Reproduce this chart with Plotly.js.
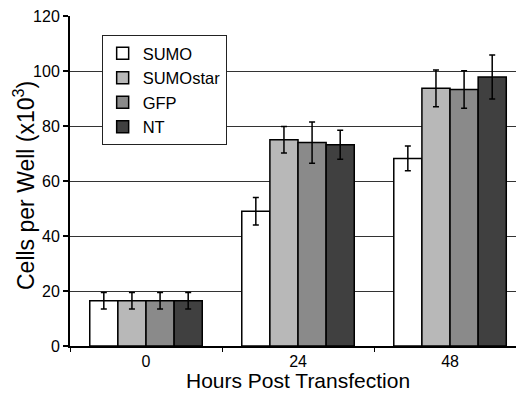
<!DOCTYPE html>
<html>
<head>
<meta charset="utf-8">
<script src="https://cdn.plot.ly/plotly-3.0.1.min.js"></script>
<style>html,body{margin:0;padding:0;background:#fff;}#chart{width:516px;height:393px;}</style>
</head>
<body>
<div id="chart"></div>
<script>
const categories = ["0", "24", "48"];
const seriesNames = ["SUMO", "SUMOstar", "GFP", "NT"];
const sumoValues = [16.5, 49, 68.2];
const sumoErrors = [3, 5, 4.5];
const sumostarValues = [16.5, 75, 93.7];
const sumostarErrors = [3, 4.8, 6.7];
const gfpValues = [16.5, 74, 93.3];
const gfpErrors = [3, 7.5, 6.8];
const ntValues = [16.5, 73.2, 97.8];
const ntErrors = [3, 5.3, 8];
const tickValuesY = [0, 20, 40, 60, 80, 100, 120];
const xTitle = "Hours Post Transfection";
const yTitle = "Cells per Well (x10<sup>3</sup>)";

const colors = ["#ffffff", "#b8b8b8", "#8a8a8a", "#404040"];
const vals = [sumoValues, sumostarValues, gfpValues, ntValues];
const errs = [sumoErrors, sumostarErrors, gfpErrors, ntErrors];

const traces = seriesNames.map((name, i) => ({
  type: "bar",
  name: name,
  x: categories,
  y: vals[i],
  marker: {color: colors[i], line: {color: "#000", width: 1.5}},
  error_y: {type: "data", array: errs[i], visible: true, color: "#000", thickness: 1.5, width: 3}
}));

const layout = {
  width: 516, height: 393,
  margin: {l: 70, r: 0, t: 16, b: 47},
  paper_bgcolor: "#fff", plot_bgcolor: "#fff",
  font: {family: "Liberation Sans, Arial, sans-serif", color: "#000", size: 16},
  barmode: "group",
  bargap: 0.26,
  bargroupgap: 0,
  showlegend: true,
  legend: {
    x: 0.071, y: 0.942, xanchor: "left", yanchor: "top",
    bgcolor: "#fff", bordercolor: "#222", borderwidth: 1,
    font: {size: 16.5}, itemwidth: 30, tracegroupgap: 0
  },
  xaxis: {
    type: "category",
    range: [-0.5, 2.434],
    tickson: "boundaries",
    ticks: "outside", ticklen: 4, tickwidth: 1, tickcolor: "#000",
    showline: true, linecolor: "#000", linewidth: 2,
    showgrid: false,
    tickfont: {size: 16}
  },
  yaxis: {
    range: [0, 120],
    tickvals: tickValuesY,
    ticks: "outside", ticklen: 5, tickwidth: 1.5, tickcolor: "#000",
    showline: true, linecolor: "#000", linewidth: 2,
    showgrid: true, gridcolor: "#333", gridwidth: 1,
    zeroline: false,
    tickfont: {size: 16}
  },
  annotations: [
    {text: xTitle, xref: "paper", yref: "paper", x: 0.511, y: -0.1424,
     xanchor: "center", yanchor: "bottom", borderpad: 0, showarrow: false, font: {size: 21}},
    {text: yTitle, xref: "paper", yref: "paper", x: -0.103, y: 0.485, textangle: -90,
     xanchor: "center", yanchor: "middle", showarrow: false, font: {size: 23}}
  ]
};

Plotly.newPlot("chart", traces, layout, {displayModeBar: false, staticPlot: true});
</script>
</body>
</html>
